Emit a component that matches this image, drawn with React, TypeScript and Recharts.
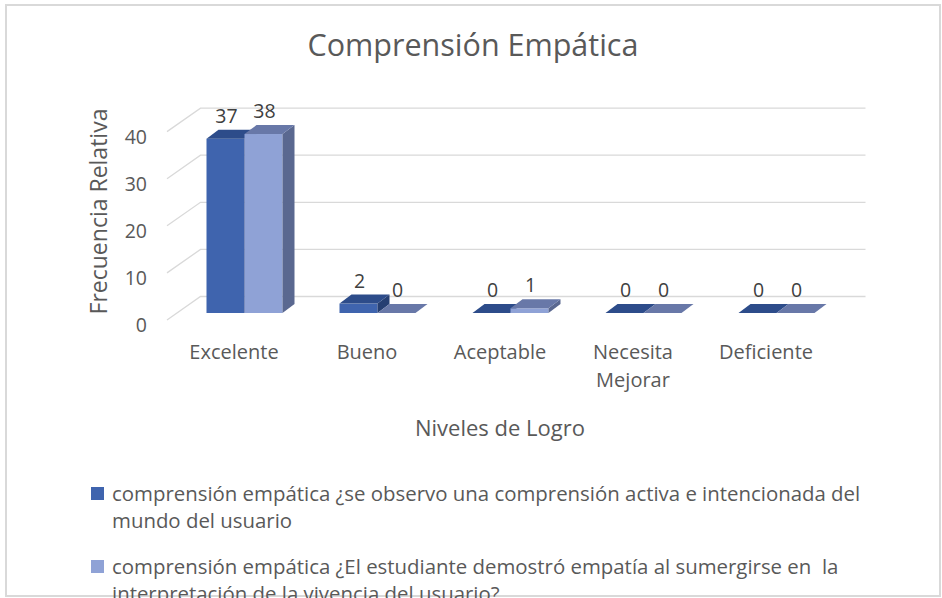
import React from "react";
import { BarChart, Bar, XAxis, YAxis, CartesianGrid, Legend, LabelList } from "recharts";

// datos
const niveles = ["Excelente", "Bueno", "Aceptable", "Necesita Mejorar", "Deficiente"];
const observoComprension = [37, 2, 0, 0, 0];
const demostroEmpatia = [38, 0, 1, 0, 0];
const yTicks = [0, 10, 20, 30, 40];

const serie1 = "comprensión empática ¿se observo una comprensión activa e intencionada del mundo del usuario";
const serie2 = "comprensión empática ¿El estudiante demostró empatía al sumergirse en  la interpretación de la vivencia del usuario?";

const data = niveles.map((nivel, i) => ({
  nivel,
  s1: observoComprension[i],
  s2: demostroEmpatia[i],
}));

const FONT = "'Open Sans', sans-serif";
const TEXT = "#595959";
const DX = 12;
const DY = 9;

const colors = {
  s1: { front: "#3F64AE", top: "#2D4C8A", side: "#263F72" },
  s2: { front: "#8FA2D6", top: "#6878A8", side: "#5A6890" },
};

const make3D = (c: { front: string; top: string; side: string }) => (props: any) => {
  const { x, y, width: w, height: h } = props;
  return (
    <g>
      {h > 0 && <rect x={x} y={y} width={w} height={h} fill={c.front} />}
      {h > 0 && (
        <polygon
          points={`${x + w},${y} ${x + w + DX},${y - DY} ${x + w + DX},${y + h - DY} ${x + w},${y + h}`}
          fill={c.side}
        />
      )}
      <polygon
        points={`${x},${y} ${x + DX},${y - DY} ${x + w + DX},${y - DY} ${x + w},${y}`}
        fill={c.top}
      />
    </g>
  );
};

const gridLine = (props: any) => {
  const { x1, x2, y1, key } = props;
  const d = `M${x1 - 10.5},${y1 + 7} L${x1 + 23},${y1 - 16.5} L${x2 + 23},${y1 - 16.5}`;
  return <path key={key} d={d} fill="none" stroke="#d9d9d9" strokeWidth={1.3} />;
};

const YTick = (props: any) => {
  const { x, y, payload } = props;
  return (
    <text x={x - 30.5} y={y + 19} textAnchor="end" fontFamily={FONT} fontSize={19.5} fill={TEXT}>
      {payload.value}
    </text>
  );
};

const XTick = (props: any) => {
  const { x, y, payload } = props;
  const words = String(payload.value).split(" ");
  return (
    <text x={x - 10} y={y + 46} textAnchor="middle" fontFamily={FONT} fontSize={20} fill={TEXT}>
      {words.map((w, i) => (
        <tspan key={i} x={x - 10} dy={i === 0 ? 0 : 28}>
          {w}
        </tspan>
      ))}
    </text>
  );
};

const valueLabel = (props: any) => {
  const { x, y, width, value } = props;
  return (
    <text x={x + width / 2 + 1} y={y - 16} textAnchor="middle" fontFamily={FONT} fontSize={19.5} fill="#404040">
      {value}
    </text>
  );
};

const LegendBox = () => (
  <div style={{ fontFamily: FONT, fontSize: 20.4, color: TEXT, lineHeight: "27px", width: 800, whiteSpace: "pre-wrap" }}>
    {[
      { name: serie1, color: colors.s1.front },
      { name: serie2, color: colors.s2.front },
    ].map((it, i) => (
      <div key={i} style={{ position: "relative", paddingLeft: 21, marginBottom: i === 0 ? 19 : 0 }}>
        <span
          style={{ position: "absolute", left: 0, top: 7, width: 13, height: 13, background: it.color }}
        />
        {it.name}
      </div>
    ))}
  </div>
);

export default function App() {
  return (
    <div style={{ position: "absolute", left: 0, top: 0, width: 942, height: 598, background: "#fff", overflow: "hidden" }}>
      <div
        style={{
          position: "absolute",
          left: 5,
          top: 4,
          width: 936,
          height: 593,
          border: "2px solid #d9d9d9",
          boxSizing: "border-box",
        }}
      />
      <div
        style={{
          position: "absolute",
          left: 0,
          width: 942,
          top: 24,
          textAlign: "center",
          fontFamily: FONT,
          fontSize: 30.5,
          color: TEXT,
          paddingLeft: 2,
          lineHeight: "41px",
        }}
      >
        Comprensión Empática
      </div>
      <div
        style={{
          position: "absolute",
          left: -22,
          top: 196,
          width: 240,
          height: 31,
          lineHeight: "31px",
          textAlign: "center",
          transform: "rotate(-90deg)",
          fontFamily: FONT,
          fontSize: 23,
          color: TEXT,
        }}
      >
        Frecuencia Relativa
      </div>
      <div
        style={{
          position: "absolute",
          left: 380,
          width: 240,
          top: 412,
          lineHeight: "30px",
          textAlign: "center",
          fontFamily: FONT,
          fontSize: 22,
          color: TEXT,
        }}
      >
        Niveles de Logro
      </div>
      <div style={{ position: "absolute", left: 0, top: 0 }}>
        <BarChart
          width={942}
          height={598}
          data={data}
          margin={{ top: 124.6, left: 176.5, right: 99.5, bottom: 284 }}
          barGap={0}
          barSize={38}
        >
          <CartesianGrid horizontal={gridLine} vertical={false} />
          <XAxis
            dataKey="nivel"
            height={1}
            axisLine={false}
            tickLine={false}
            tickSize={0}
            tickMargin={0}
            interval={0}
            tick={<XTick />}
          />
          <YAxis
            width={1}
            domain={[0, 40]}
            ticks={yTicks}
            axisLine={false}
            tickLine={false}
            tickSize={0}
            tickMargin={0}
            tick={<YTick />}
          />
          <Legend
            layout="horizontal"
            verticalAlign="middle"
            align="center"
            wrapperStyle={{ left: 91, top: 480, width: 820 }}
            content={() => <LegendBox />}
          />
          <Bar dataKey="s1" name={serie1} fill={colors.s1.front} shape={make3D(colors.s1)} isAnimationActive={false}>
            <LabelList dataKey="s1" content={valueLabel} />
          </Bar>
          <Bar dataKey="s2" name={serie2} fill={colors.s2.front} shape={make3D(colors.s2)} isAnimationActive={false}>
            <LabelList dataKey="s2" content={valueLabel} />
          </Bar>
        </BarChart>
      </div>
    </div>
  );
}
